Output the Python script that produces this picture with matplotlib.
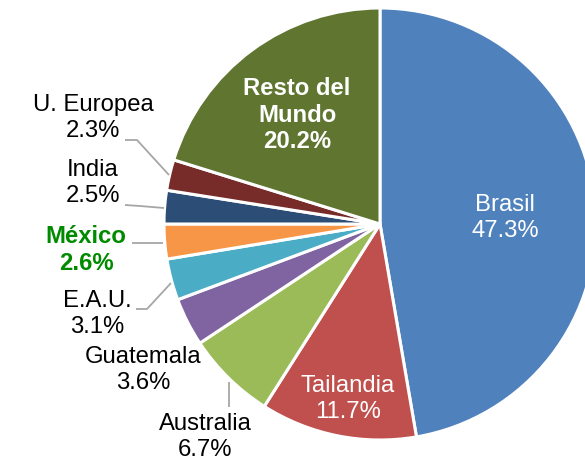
import matplotlib.pyplot as plt

# Datos: participación por país (%)
paises = ["Brasil", "Tailandia", "Australia", "Guatemala", "E.A.U.",
          "México", "India", "U. Europea", "Resto del\nMundo"]
valores = [47.3, 11.7, 6.7, 3.6, 3.1, 2.6, 2.5, 2.3, 20.2]
colores = ["#4F81BD", "#C0504D", "#9BBB59", "#8064A2", "#4BACC6",
           "#F79646", "#2C4D75", "#772C2A", "#5F7530"]

W, H = 585, 462
fig = plt.figure(figsize=(W / 100, H / 100), dpi=100)
ax = fig.add_axes([0, 0, 1, 1])
plt.rcParams['font.family'] = ['Liberation Sans', 'DejaVu Sans']

cx, cy, r = 380, 224, 216
ax.pie(valores, colors=colores, startangle=90, counterclock=False,
       center=(cx, H - cy), radius=r,
       wedgeprops=dict(edgecolor="white", linewidth=2.2))
ax.set_xlim(0, W)
ax.set_ylim(0, H)
ax.set_aspect("equal")
ax.axis("off")

# posiciones de las etiquetas (pixeles, y hacia abajo)
pos = [(505, 218), (348, 399), (205, 437), (143, 370), (97, 314),
       (86, 250), (93, 183), (93, 118), (297, 115)]
estilo = ["in", "in", "out", "out", "out", "mx", "out", "out", "bold"]

fs = 17.2
for nombre, v, (x, y), e in zip(paises, valores, pos, estilo):
    txt = f"{nombre}\n{v:.1f}%"
    if e == "in":
        ax.text(x, H - y, txt, ha="center", va="center", color="white",
                fontsize=fs, linespacing=1.22)
    elif e == "bold":
        ax.text(x, H - y, txt, ha="center", va="center", color="white",
                fontsize=fs, fontweight="bold", linespacing=1.22)
    elif e == "mx":
        ax.text(x, H - y, txt, ha="center", va="center", color="#008A00",
                fontsize=fs, fontweight="bold", linespacing=1.22)
    else:
        ax.text(x, H - y, txt, ha="center", va="center", color="black",
                fontsize=fs, linespacing=1.22)

# lineas guia
guias = [
    [(229, 382), (229, 407)],
    [(136, 309), (147, 309), (171, 283)],
    [(132, 243), (163, 243)],
    [(125, 205), (140, 206), (164, 208)],
    [(125, 140), (137, 140), (169, 175)],
]
for g in guias:
    xs = [p[0] for p in g]
    ys = [H - p[1] for p in g]
    ax.plot(xs, ys, color="#A6A6A6", linewidth=1.3, solid_capstyle="butt")

plt.savefig("out.png", dpi=100)
